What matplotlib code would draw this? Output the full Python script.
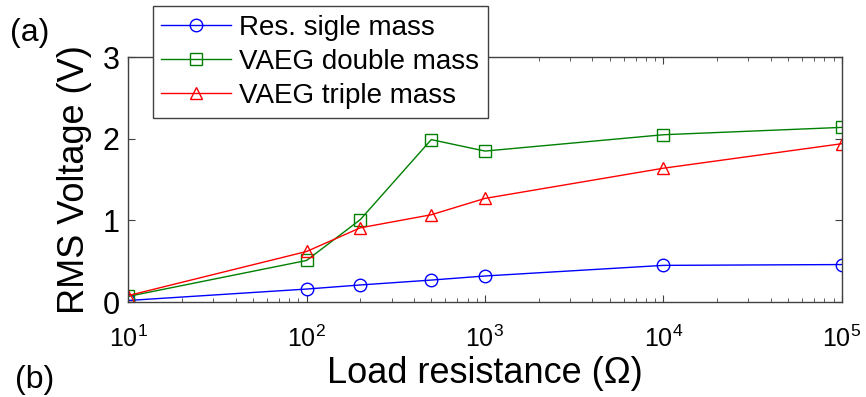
import matplotlib
matplotlib.use("Agg")
import matplotlib.pyplot as plt

plt.rcParams['font.family'] = ['Liberation Sans', 'DejaVu Sans']
plt.rcParams['mathtext.fontset'] = 'custom'
plt.rcParams['mathtext.rm'] = 'Liberation Sans'
plt.rcParams['mathtext.it'] = 'Liberation Sans'
plt.rcParams['mathtext.default'] = 'regular'

# Load resistance (ohm) and measured RMS voltages (V)
resistance = [10, 100, 200, 500, 1000, 10000, 100000]
single_mass = [0.02, 0.16, 0.21, 0.27, 0.32, 0.45, 0.46]
double_mass = [0.07, 0.51, 1.01, 1.99, 1.85, 2.05, 2.14]
triple_mass = [0.08, 0.62, 0.91, 1.07, 1.27, 1.64, 1.94]

labels = ['Res. sigle mass', 'VAEG double mass', 'VAEG triple mass']
colors = ['#0000ff', '#008000', '#ff0000']
markers = ['o', 's', '^']

fig = plt.figure(figsize=(8.66, 3.97), dpi=100)
ax = fig.add_axes([0.148, 0.239, 0.824, 0.617])

for ys, lab, c, m in zip([single_mass, double_mass, triple_mass], labels, colors, markers):
    ax.plot(resistance, ys, color=c, marker=m, markersize=9, markerfacecolor='none',
            markeredgecolor=c, linewidth=1.0, label=lab)

ax.set_xscale('log')
ax.set_xlim(10, 1e5)
ax.set_ylim(0, 3)
ax.set_yticks([0, 1, 2, 3])

for s in ax.spines.values():
    s.set_color('#404040')
    s.set_linewidth(1.0)

ax.tick_params(which='both', direction='in', top=True, right=True, colors='#404040',
               labelcolor='black')
ax.tick_params(which='major', length=5)
ax.tick_params(which='minor', length=3)
ax.tick_params(axis='y', labelsize=22, pad=6)
ax.tick_params(axis='x', labelsize=18, pad=17)

ax.set_xlabel('Load resistance (Ω)', fontsize=26, labelpad=3)
ax.set_ylabel('RMS Voltage (V)', fontsize=26, labelpad=8)

leg = ax.legend(loc='upper left', bbox_to_anchor=(0.035, 1.208), fontsize=20,
                frameon=True, fancybox=False, borderpad=0.3, labelspacing=0.3,
                handlelength=2.5, handletextpad=0.3, borderaxespad=0)
leg.get_frame().set_edgecolor('#404040')
leg.get_frame().set_linewidth(1.0)
leg.get_frame().set_alpha(1)

fig.text(0.012, 0.917, '(a)', fontsize=23, va='center')
fig.text(0.017, 0.08, '(b)', fontsize=23, va='top')

fig.savefig('out.png', dpi=100)
